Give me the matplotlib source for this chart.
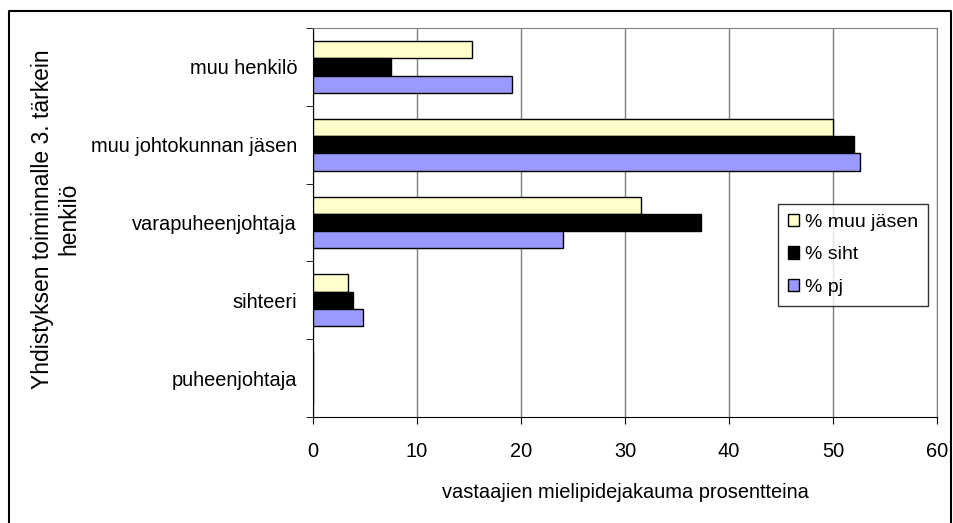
import numpy as np
import matplotlib.pyplot as plt
from matplotlib.lines import Line2D

plt.rcParams['font.family'] = ['Liberation Sans', 'DejaVu Sans']

categories = ["puheenjohtaja", "sihteeri", "varapuheenjohtaja",
              "muu johtokunnan jäsen", "muu henkilö"]
muu_jasen = [0.0, 3.4, 31.5, 50.0, 15.3]
siht = [0.0, 3.8, 37.3, 52.0, 7.5]
pj = [0.0, 4.8, 24.0, 52.6, 19.1]

series = [("% muu jäsen", muu_jasen, "#FFFFCC"),
          ("% siht", siht, "#000000"),
          ("% pj", pj, "#9999FF")]

W, H = 954, 523
fig = plt.figure(figsize=(W / 100, H / 100), dpi=100)
ax = fig.add_axes([313 / W, 1 - 417 / H, (937 - 313) / W, (417 - 28) / H])

y = np.arange(len(categories))
h = 0.222
offsets = [h, 0, -h]
for (label, vals, color), off in zip(series, offsets):
    ax.barh(y + off, vals, height=h, color=color, edgecolor="black",
            linewidth=1.0, label=label, zorder=3)

fs = 14.4
ax.set_xlim(0, 60)
ax.set_ylim(-0.5, len(categories) - 0.5)
ax.set_xticks(np.arange(0, 61, 10))
ax.set_yticks(y)
ax.set_yticklabels(categories, fontsize=fs)
ax.set_yticks(np.arange(-0.5, len(categories), 1), minor=True)
ax.tick_params(axis="y", which="major", length=0, pad=11.5)
ax.tick_params(axis="y", which="minor", length=5, direction="out")
ax.tick_params(axis="x", length=5, direction="out", labelsize=fs, pad=13)
ax.grid(axis="x", color="#808080", linewidth=1.0, zorder=0)

for side in ("top", "right"):
    ax.spines[side].set_color("#808080")
for side in ("left", "bottom"):
    ax.spines[side].set_color("black")

ax.set_xlabel("vastaajien mielipidejakauma prosentteina", fontsize=fs, labelpad=16)
fig.text(56 / W, 1 - 219 / H, "Yhdistyksen toiminnalle 3. tärkein\nhenkilö",
         rotation=90, ha="center", va="center", fontsize=16.5,
         multialignment="center", linespacing=1.2)

handles, labels = ax.get_legend_handles_labels()
leg = fig.legend(handles, labels, loc="upper left",
                 bbox_to_anchor=(778 / W, 1 - 204 / H),
                 fontsize=14, frameon=True, fancybox=False, edgecolor="black",
                 handlelength=0.6, handleheight=0.6, handletextpad=0.3,
                 labelspacing=0.8, borderpad=0.5, borderaxespad=0)
leg.get_frame().set_linewidth(1.0)

# outer chart frame (left, top, right; bottom edge is cut off)
fx = [9 / W, 9 / W, 951 / W, 951 / W]
fy = [0, 1 - 11 / H, 1 - 11 / H, 0]
fig.add_artist(Line2D(fx, fy, transform=fig.transFigure, color="black", linewidth=1.5))

fig.savefig("out.png", dpi=100)
